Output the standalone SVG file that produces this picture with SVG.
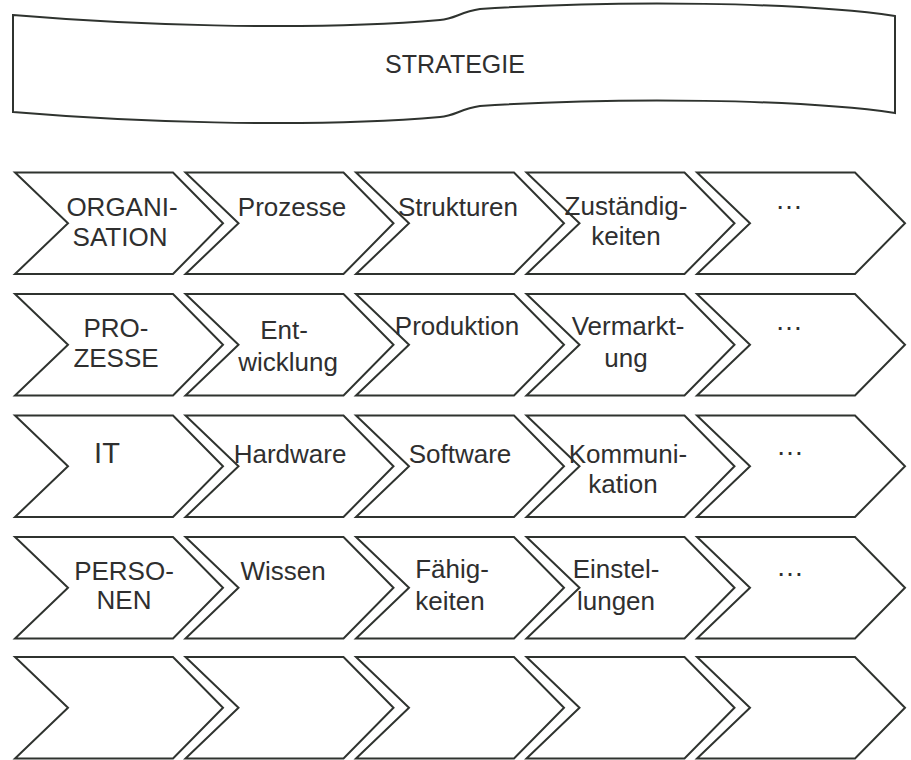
<svg xmlns="http://www.w3.org/2000/svg" xmlns:xlink="http://www.w3.org/1999/xlink" width="911" height="760" viewBox="0 0 911 760">
  <defs>
    <style>
      .shape { fill: #ffffff; stroke: #2f332f; stroke-width: 2; stroke-linejoin: miter; }
      .t { font-family: "Liberation Sans", Arial, Helvetica, sans-serif; font-size: 26px; fill: #2f2f2f; text-anchor: middle; }
      .big { font-size: 29px; }
      .dots { font-size: 28px; }
      .title { font-size: 25px; }
    </style>
    <!-- one process-chain arrow: flat top/bottom, notched tail, pointed head -->
    <polygon id="chev" points="0,0 158,0 208,50.75 158,101.5 0,101.5 53,50.75"/>
  </defs>

  <rect x="0" y="0" width="911" height="760" fill="#ffffff"/>

  <!-- banner -->
  <g id="strategie">
    <path class="shape" d="M13,15 C120,24 300,32 440,20 C455,19 460,12 480,9 C620,0 800,2 895,16 L895,113 C800,99 620,97 480,106 C460,109 455,116 440,117 C300,129 120,121 13,112 Z"/>
    <text class="t title" x="455" y="73">STRATEGIE</text>
  </g>

  <!-- row 1 -->
  <g id="organisation">
    <use href="#chev" class="shape" x="15" y="172.5"/>
    <text class="t" x="122" y="216">ORGANI-</text>
    <text class="t" x="120" y="246">SATION</text>
  </g>
  <g id="org-prozesse">
    <use href="#chev" class="shape" x="185.5" y="172.5"/>
    <text class="t" x="292" y="216">Prozesse</text>
  </g>
  <g id="org-strukturen">
    <use href="#chev" class="shape" x="356" y="172.5"/>
    <text class="t" x="458" y="216">Strukturen</text>
  </g>
  <g id="org-zustaendigkeiten">
    <use href="#chev" class="shape" x="526.5" y="172.5"/>
    <text class="t" x="626" y="215">Zuständig-</text>
    <text class="t" x="626" y="245">keiten</text>
  </g>
  <g id="org-more">
    <use href="#chev" class="shape" x="697" y="172.5"/>
    <text class="t dots" x="789" y="209">…</text>
  </g>

  <!-- row 2 -->
  <g id="prozesse">
    <use href="#chev" class="shape" x="15" y="294"/>
    <text class="t" x="116" y="337">PRO-</text>
    <text class="t" x="116" y="367">ZESSE</text>
  </g>
  <g id="proz-entwicklung">
    <use href="#chev" class="shape" x="185.5" y="294"/>
    <text class="t" x="284" y="339">Ent-</text>
    <text class="t" x="288" y="371">wicklung</text>
  </g>
  <g id="proz-produktion">
    <use href="#chev" class="shape" x="356" y="294"/>
    <text class="t" x="457" y="335">Produktion</text>
  </g>
  <g id="proz-vermarktung">
    <use href="#chev" class="shape" x="526.5" y="294"/>
    <text class="t" x="628" y="335">Vermarkt-</text>
    <text class="t" x="626" y="367">ung</text>
  </g>
  <g id="proz-more">
    <use href="#chev" class="shape" x="697" y="294"/>
    <text class="t dots" x="789" y="330">…</text>
  </g>

  <!-- row 3 -->
  <g id="it">
    <use href="#chev" class="shape" x="15" y="415.5"/>
    <text class="t big" x="107" y="463">IT</text>
  </g>
  <g id="it-hardware">
    <use href="#chev" class="shape" x="185.5" y="415.5"/>
    <text class="t" x="290" y="463">Hardware</text>
  </g>
  <g id="it-software">
    <use href="#chev" class="shape" x="356" y="415.5"/>
    <text class="t" x="460" y="463">Software</text>
  </g>
  <g id="it-kommunikation">
    <use href="#chev" class="shape" x="526.5" y="415.5"/>
    <text class="t" x="628" y="463">Kommuni-</text>
    <text class="t" x="623" y="493">kation</text>
  </g>
  <g id="it-more">
    <use href="#chev" class="shape" x="697" y="415.5"/>
    <text class="t dots" x="790" y="455">…</text>
  </g>

  <!-- row 4 -->
  <g id="personen">
    <use href="#chev" class="shape" x="15" y="537"/>
    <text class="t" x="124" y="580">PERSO-</text>
    <text class="t" x="124" y="609">NEN</text>
  </g>
  <g id="pers-wissen">
    <use href="#chev" class="shape" x="185.5" y="537"/>
    <text class="t" x="283" y="580">Wissen</text>
  </g>
  <g id="pers-faehigkeiten">
    <use href="#chev" class="shape" x="356" y="537"/>
    <text class="t" x="452" y="578">Fähig-</text>
    <text class="t" x="450" y="610">keiten</text>
  </g>
  <g id="pers-einstellungen">
    <use href="#chev" class="shape" x="526.5" y="537"/>
    <text class="t" x="616" y="578">Einstel-</text>
    <text class="t" x="616" y="610">lungen</text>
  </g>
  <g id="pers-more">
    <use href="#chev" class="shape" x="697" y="537"/>
    <text class="t dots" x="790" y="576">…</text>
  </g>

  <!-- row 5 (empty) -->
  <g id="row5-c1"><use href="#chev" class="shape" x="15" y="657"/></g>
  <g id="row5-c2"><use href="#chev" class="shape" x="185.5" y="657"/></g>
  <g id="row5-c3"><use href="#chev" class="shape" x="356" y="657"/></g>
  <g id="row5-c4"><use href="#chev" class="shape" x="526.5" y="657"/></g>
  <g id="row5-c5"><use href="#chev" class="shape" x="697" y="657"/></g>

  <!-- no connectors: the arrows abut in chains -->
  <g id="connectors"/>
</svg>
